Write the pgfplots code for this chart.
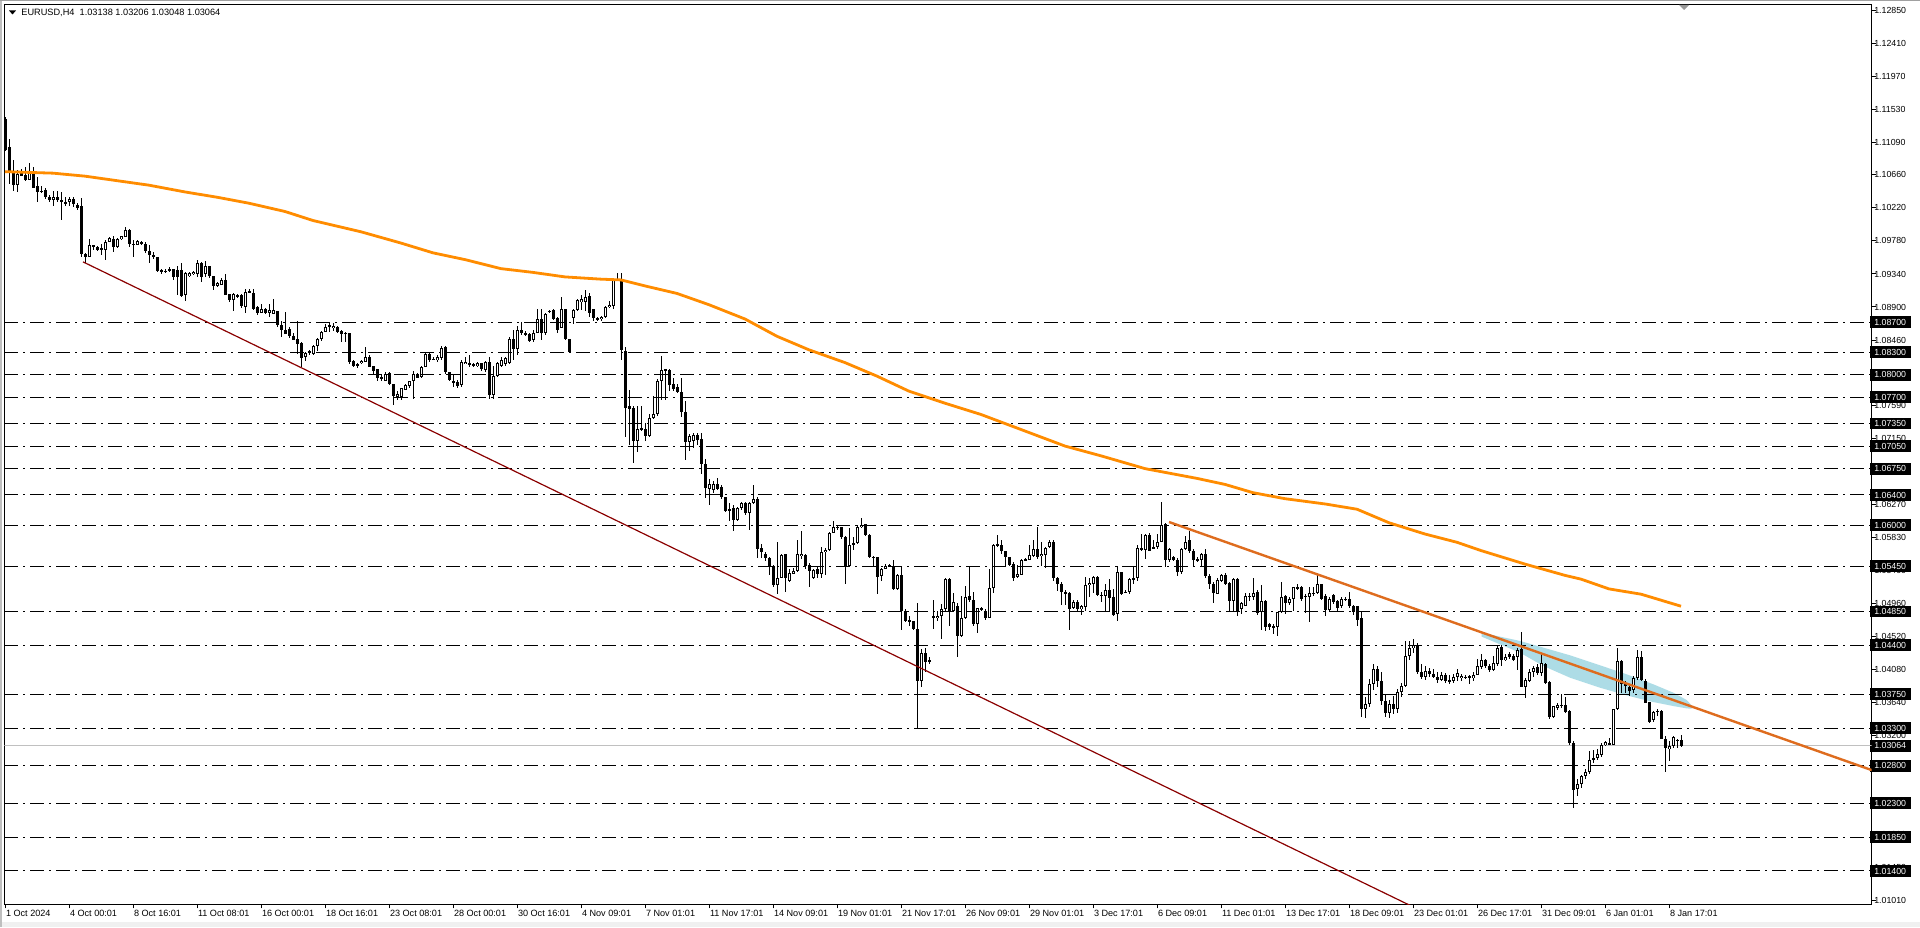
\documentclass[border=0pt]{standalone}
\usepackage{pgfplots}
\pgfplotsset{compat=1.18}
\usepackage{pgfplotstable}
\usepackage{fontspec}
\setmainfont{Liberation Sans}
\pgfdeclarelayer{background}
\pgfsetlayers{background,main}
\definecolor{maorange}{RGB}{255,140,0}
\definecolor{trendor}{RGB}{222,108,30}
\definecolor{chanred}{RGB}{139,0,0}
\definecolor{bandblue}{RGB}{173,220,230}
\definecolor{bidgray}{RGB}{192,192,192}
\definecolor{framegray}{RGB}{160,160,160}

\pgfplotstableread{
x o h l c
0 1.1140 1.1143 1.1097 1.1099
1 1.1103 1.1113 1.1054 1.1070
2 1.1070 1.1085 1.1044 1.1052
3 1.1052 1.1072 1.1043 1.1067
4 1.1068 1.1073 1.1064 1.1064
5 1.1066 1.1076 1.1057 1.1059
6 1.1059 1.1081 1.1059 1.1070
7 1.1067 1.1076 1.1048 1.1049
8 1.1051 1.1063 1.1030 1.1043
9 1.1045 1.1051 1.1041 1.1043
10 1.1045 1.1048 1.1034 1.1036
11 1.1037 1.1039 1.1030 1.1032
12 1.1033 1.1044 1.1024 1.1036
13 1.1036 1.1045 1.1030 1.1032
14 1.1032 1.1043 1.1006 1.1030
15 1.1030 1.1036 1.1024 1.1028
16 1.1030 1.1036 1.1024 1.1034
17 1.1034 1.1036 1.1023 1.1027
18 1.1026 1.1028 1.1019 1.1022
19 1.1024 1.1035 1.0957 1.0960
20 1.0961 1.0962 1.0949 1.0957
21 1.0957 1.0980 1.0957 1.0973
22 1.0972 1.0973 1.0966 1.0970
23 1.0970 1.0971 1.0965 1.0966
24 1.0968 1.0974 1.0959 1.0966
25 1.0966 1.0979 1.0952 1.0977
26 1.0977 1.0983 1.0977 1.0982
27 1.0981 1.0984 1.0963 1.0970
28 1.0970 1.0982 1.0969 1.0980
29 1.0980 1.0985 1.0979 1.0984
30 1.0983 1.0996 1.0983 1.0992
31 1.0992 1.0994 1.0970 1.0974
32 1.0974 1.0979 1.0957 1.0973
33 1.0973 1.0979 1.0972 1.0978
34 1.0977 1.0978 1.0973 1.0974
35 1.0974 1.0977 1.0962 1.0965
36 1.0965 1.0973 1.0949 1.0959
37 1.0959 1.0963 1.0954 1.0956
38 1.0956 1.0957 1.0937 1.0938
39 1.0939 1.0941 1.0934 1.0938
40 1.0938 1.0940 1.0935 1.0937
41 1.0940 1.0943 1.0937 1.0938
42 1.0940 1.0941 1.0926 1.0930
43 1.0939 1.0945 1.0906 1.0930
44 1.0939 1.0948 1.0903 1.0904
45 1.0906 1.0937 1.0898 1.0935
46 1.0931 1.0937 1.0930 1.0935
47 1.0934 1.0938 1.0933 1.0937
48 1.0934 1.0952 1.0930 1.0948
49 1.0948 1.0950 1.0923 1.0930
50 1.0934 1.0951 1.0930 1.0945
51 1.0945 1.0945 1.0928 1.0931
52 1.0931 1.0931 1.0912 1.0918
53 1.0918 1.0923 1.0917 1.0922
54 1.0920 1.0928 1.0919 1.0926
55 1.0926 1.0934 1.0906 1.0906
56 1.0907 1.0908 1.0897 1.0899
57 1.0899 1.0909 1.0885 1.0907
58 1.0906 1.0907 1.0902 1.0904
59 1.0906 1.0908 1.0889 1.0891
60 1.0890 1.0914 1.0882 1.0910
61 1.0910 1.0914 1.0910 1.0911
62 1.0909 1.0914 1.0886 1.0888
63 1.0890 1.0891 1.0879 1.0882
64 1.0882 1.0894 1.0882 1.0888
65 1.0888 1.0889 1.0881 1.0882
66 1.0882 1.0894 1.0877 1.0886
67 1.0881 1.0900 1.0881 1.0886
68 1.0885 1.0885 1.0863 1.0866
69 1.0866 1.0872 1.0850 1.0859
70 1.0860 1.0883 1.0854 1.0854
71 1.0861 1.0863 1.0849 1.0852
72 1.0851 1.0855 1.0846 1.0846
73 1.0848 1.0872 1.0828 1.0841
74 1.0842 1.0843 1.0810 1.0822
75 1.0823 1.0830 1.0818 1.0829
76 1.0829 1.0833 1.0826 1.0831
77 1.0828 1.0839 1.0826 1.0838
78 1.0838 1.0849 1.0832 1.0848
79 1.0848 1.0858 1.0845 1.0857
80 1.0857 1.0867 1.0857 1.0864
81 1.0864 1.0869 1.0857 1.0866
82 1.0862 1.0869 1.0858 1.0865
83 1.0864 1.0865 1.0856 1.0857
84 1.0858 1.0859 1.0844 1.0854
85 1.0856 1.0857 1.0843 1.0854
86 1.0855 1.0856 1.0814 1.0817
87 1.0818 1.0819 1.0810 1.0811
88 1.0812 1.0815 1.0809 1.0814
89 1.0815 1.0819 1.0814 1.0818
90 1.0817 1.0837 1.0817 1.0824
91 1.0824 1.0826 1.0810 1.0810
92 1.0811 1.0811 1.0799 1.0805
93 1.0807 1.0807 1.0792 1.0796
94 1.0797 1.0799 1.0791 1.0795
95 1.0792 1.0803 1.0791 1.0801
96 1.0802 1.0804 1.0786 1.0787
97 1.0787 1.0788 1.0759 1.0771
98 1.0771 1.0779 1.0767 1.0774
99 1.0771 1.0782 1.0766 1.0782
100 1.0780 1.0787 1.0779 1.0786
101 1.0785 1.0792 1.0782 1.0791
102 1.0791 1.0805 1.0768 1.0801
103 1.0801 1.0802 1.0795 1.0796
104 1.0797 1.0811 1.0796 1.0810
105 1.0810 1.0829 1.0810 1.0827
106 1.0827 1.0829 1.0817 1.0819
107 1.0820 1.0823 1.0819 1.0821
108 1.0819 1.0826 1.0817 1.0823
109 1.0822 1.0838 1.0819 1.0836
110 1.0837 1.0838 1.0801 1.0803
111 1.0804 1.0804 1.0792 1.0793
112 1.0792 1.0799 1.0784 1.0789
113 1.0790 1.0793 1.0782 1.0785
114 1.0786 1.0819 1.0784 1.0817
115 1.0814 1.0824 1.0814 1.0817
116 1.0816 1.0826 1.0810 1.0813
117 1.0814 1.0815 1.0810 1.0811
118 1.0811 1.0817 1.0810 1.0815
119 1.0815 1.0815 1.0805 1.0807
120 1.0806 1.0818 1.0804 1.0817
121 1.0817 1.0824 1.0768 1.0773
122 1.0773 1.0811 1.0768 1.0798
123 1.0798 1.0817 1.0797 1.0816
124 1.0811 1.0824 1.0810 1.0820
125 1.0814 1.0824 1.0811 1.0822
126 1.0815 1.0850 1.0814 1.0847
127 1.0847 1.0860 1.0820 1.0834
128 1.0834 1.0865 1.0826 1.0859
129 1.0860 1.0870 1.0853 1.0855
130 1.0856 1.0858 1.0851 1.0853
131 1.0854 1.0855 1.0843 1.0845
132 1.0846 1.0859 1.0844 1.0855
133 1.0855 1.0887 1.0855 1.0874
134 1.0874 1.0887 1.0846 1.0856
135 1.0856 1.0882 1.0853 1.0881
136 1.0883 1.0886 1.0882 1.0885
137 1.0886 1.0887 1.0873 1.0874
138 1.0876 1.0877 1.0855 1.0860
139 1.0862 1.0904 1.0862 1.0887
140 1.0887 1.0888 1.0846 1.0848
141 1.0848 1.0848 1.0829 1.0830
142 1.0875 1.0888 1.0867 1.0886
143 1.0886 1.0901 1.0885 1.0899
144 1.0896 1.0906 1.0886 1.0900
145 1.0897 1.0913 1.0885 1.0904
146 1.0905 1.0908 1.0877 1.0882
147 1.0887 1.0887 1.0871 1.0875
148 1.0875 1.0877 1.0871 1.0874
149 1.0874 1.0878 1.0872 1.0877
150 1.0877 1.0891 1.0876 1.0890
151 1.0890 1.0898 1.0888 1.0893
152 1.0891 1.0928 1.0888 1.0926
153 1.0925 1.0935 1.0924 1.0927
154 1.0926 1.0935 1.0819 1.0833
155 1.0832 1.0837 1.0717 1.0756
156 1.0758 1.0780 1.0706 1.0755
157 1.0755 1.0758 1.0683 1.0712
158 1.0712 1.0758 1.0697 1.0728
159 1.0729 1.0758 1.0725 1.0727
160 1.0728 1.0736 1.0712 1.0719
161 1.0718 1.0747 1.0717 1.0743
162 1.0743 1.0772 1.0741 1.0747
163 1.0747 1.0794 1.0745 1.0792
164 1.0792 1.0825 1.0767 1.0806
165 1.0807 1.0808 1.0767 1.0805
166 1.0806 1.0808 1.0778 1.0786
167 1.0787 1.0796 1.0778 1.0781
168 1.0784 1.0787 1.0776 1.0777
169 1.0777 1.0796 1.0743 1.0750
170 1.0750 1.0765 1.0686 1.0710
171 1.0710 1.0721 1.0699 1.0719
172 1.0712 1.0723 1.0703 1.0720
173 1.0720 1.0722 1.0706 1.0713
174 1.0714 1.0722 1.0668 1.0681
175 1.0681 1.0688 1.0636 1.0649
176 1.0648 1.0661 1.0627 1.0655
177 1.0647 1.0659 1.0643 1.0655
178 1.0654 1.0662 1.0646 1.0648
179 1.0650 1.0653 1.0635 1.0637
180 1.0637 1.0637 1.0618 1.0619
181 1.0622 1.0630 1.0605 1.0619
182 1.0623 1.0626 1.0592 1.0607
183 1.0607 1.0624 1.0606 1.0623
184 1.0622 1.0631 1.0620 1.0629
185 1.0629 1.0631 1.0614 1.0616
186 1.0616 1.0631 1.0594 1.0629
187 1.0629 1.0653 1.0628 1.0635
188 1.0635 1.0637 1.0556 1.0568
189 1.0569 1.0575 1.0556 1.0564
190 1.0562 1.0564 1.0552 1.0556
191 1.0556 1.0558 1.0533 1.0546
192 1.0546 1.0547 1.0518 1.0520
193 1.0520 1.0578 1.0509 1.0530
194 1.0530 1.0561 1.0529 1.0560
195 1.0561 1.0562 1.0511 1.0530
196 1.0526 1.0541 1.0524 1.0536
197 1.0535 1.0543 1.0535 1.0539
198 1.0539 1.0580 1.0538 1.0561
199 1.0559 1.0592 1.0555 1.0562
200 1.0560 1.0561 1.0542 1.0546
201 1.0547 1.0549 1.0517 1.0539
202 1.0529 1.0541 1.0528 1.0540
203 1.0541 1.0545 1.0529 1.0535
204 1.0535 1.0571 1.0529 1.0564
205 1.0564 1.0569 1.0533 1.0567
206 1.0567 1.0591 1.0565 1.0590
207 1.0590 1.0606 1.0589 1.0598
208 1.0598 1.0600 1.0594 1.0596
209 1.0597 1.0598 1.0582 1.0584
210 1.0584 1.0585 1.0521 1.0545
211 1.0545 1.0596 1.0544 1.0574
212 1.0574 1.0584 1.0567 1.0576
213 1.0576 1.0600 1.0575 1.0597
214 1.0597 1.0609 1.0596 1.0600
215 1.0601 1.0602 1.0586 1.0587
216 1.0587 1.0588 1.0556 1.0558
217 1.0558 1.0559 1.0546 1.0556
218 1.0557 1.0558 1.0508 1.0531
219 1.0532 1.0543 1.0525 1.0542
220 1.0542 1.0548 1.0541 1.0546
221 1.0546 1.0548 1.0544 1.0545
222 1.0546 1.0553 1.0513 1.0515
223 1.0515 1.0535 1.0513 1.0534
224 1.0534 1.0546 1.0461 1.0486
225 1.0486 1.0488 1.0471 1.0473
226 1.0473 1.0479 1.0466 1.0471
227 1.0472 1.0473 1.0461 1.0462
228 1.0462 1.0497 1.0330 1.0392
229 1.0392 1.0435 1.0384 1.0430
230 1.0430 1.0436 1.0405 1.0418
231 1.0420 1.0424 1.0415 1.0418
232 1.0479 1.0500 1.0462 1.0476
233 1.0476 1.0486 1.0473 1.0479
234 1.0479 1.0495 1.0448 1.0488
235 1.0488 1.0529 1.0486 1.0528
236 1.0528 1.0529 1.0466 1.0486
237 1.0486 1.0510 1.0485 1.0497
238 1.0492 1.0497 1.0424 1.0452
239 1.0452 1.0506 1.0451 1.0476
240 1.0476 1.0519 1.0475 1.0505
241 1.0505 1.0545 1.0498 1.0500
242 1.0500 1.0511 1.0466 1.0469
243 1.0469 1.0490 1.0457 1.0489
244 1.0489 1.0491 1.0485 1.0488
245 1.0486 1.0489 1.0474 1.0477
246 1.0477 1.0541 1.0476 1.0516
247 1.0516 1.0575 1.0510 1.0574
248 1.0574 1.0587 1.0571 1.0573
249 1.0574 1.0580 1.0562 1.0565
250 1.0565 1.0566 1.0545 1.0557
251 1.0557 1.0557 1.0545 1.0547
252 1.0548 1.0551 1.0526 1.0529
253 1.0531 1.0547 1.0529 1.0535
254 1.0534 1.0555 1.0533 1.0554
255 1.0553 1.0556 1.0552 1.0555
256 1.0554 1.0574 1.0553 1.0560
257 1.0559 1.0580 1.0557 1.0568
258 1.0568 1.0597 1.0555 1.0557
259 1.0559 1.0577 1.0545 1.0562
260 1.0560 1.0571 1.0543 1.0569
261 1.0571 1.0580 1.0569 1.0578
262 1.0578 1.0580 1.0526 1.0529
263 1.0529 1.0531 1.0512 1.0521
264 1.0522 1.0524 1.0494 1.0511
265 1.0511 1.0514 1.0494 1.0509
266 1.0510 1.0511 1.0460 1.0489
267 1.0489 1.0500 1.0488 1.0498
268 1.0498 1.0500 1.0484 1.0488
269 1.0488 1.0494 1.0481 1.0492
270 1.0491 1.0531 1.0485 1.0520
271 1.0520 1.0529 1.0504 1.0523
272 1.0522 1.0532 1.0509 1.0531
273 1.0531 1.0532 1.0505 1.0507
274 1.0507 1.0511 1.0497 1.0506
275 1.0506 1.0521 1.0486 1.0513
276 1.0513 1.0528 1.0485 1.0503
277 1.0504 1.0515 1.0479 1.0481
278 1.0482 1.0545 1.0472 1.0537
279 1.0537 1.0538 1.0507 1.0509
280 1.0510 1.0514 1.0509 1.0511
281 1.0511 1.0530 1.0509 1.0528
282 1.0528 1.0545 1.0521 1.0529
283 1.0529 1.0574 1.0526 1.0569
284 1.0569 1.0588 1.0566 1.0567
285 1.0567 1.0588 1.0555 1.0587
286 1.0587 1.0590 1.0565 1.0566
287 1.0569 1.0580 1.0568 1.0570
288 1.0571 1.0588 1.0568 1.0578
289 1.0578 1.0630 1.0577 1.0600
290 1.0602 1.0603 1.0544 1.0553
291 1.0553 1.0569 1.0551 1.0568
292 1.0557 1.0559 1.0552 1.0553
293 1.0554 1.0556 1.0532 1.0537
294 1.0537 1.0569 1.0535 1.0568
295 1.0568 1.0585 1.0567 1.0578
296 1.0580 1.0592 1.0563 1.0565
297 1.0566 1.0568 1.0545 1.0553
298 1.0555 1.0557 1.0551 1.0553
299 1.0553 1.0563 1.0545 1.0562
300 1.0561 1.0568 1.0529 1.0532
301 1.0532 1.0535 1.0515 1.0521
302 1.0521 1.0524 1.0497 1.0509
303 1.0509 1.0530 1.0508 1.0527
304 1.0526 1.0535 1.0524 1.0533
305 1.0534 1.0536 1.0520 1.0521
306 1.0523 1.0524 1.0485 1.0499
307 1.0499 1.0530 1.0485 1.0528
308 1.0528 1.0529 1.0479 1.0486
309 1.0489 1.0498 1.0481 1.0496
310 1.0493 1.0509 1.0492 1.0506
311 1.0506 1.0509 1.0499 1.0505
312 1.0504 1.0530 1.0501 1.0510
313 1.0511 1.0514 1.0481 1.0483
314 1.0484 1.0520 1.0461 1.0499
315 1.0499 1.0501 1.0459 1.0464
316 1.0469 1.0470 1.0461 1.0464
317 1.0465 1.0468 1.0455 1.0464
318 1.0464 1.0484 1.0452 1.0484
319 1.0484 1.0524 1.0483 1.0505
320 1.0505 1.0507 1.0481 1.0496
321 1.0496 1.0504 1.0494 1.0502
322 1.0502 1.0518 1.0486 1.0517
323 1.0517 1.0521 1.0514 1.0516
324 1.0518 1.0519 1.0499 1.0502
325 1.0505 1.0508 1.0483 1.0506
326 1.0505 1.0518 1.0471 1.0510
327 1.0510 1.0518 1.0506 1.0509
328 1.0509 1.0535 1.0508 1.0521
329 1.0521 1.0521 1.0500 1.0502
330 1.0506 1.0508 1.0479 1.0487
331 1.0487 1.0504 1.0485 1.0501
332 1.0507 1.0508 1.0495 1.0498
333 1.0499 1.0501 1.0484 1.0489
334 1.0492 1.0504 1.0490 1.0502
335 1.0501 1.0505 1.0499 1.0502
336 1.0502 1.0511 1.0490 1.0492
337 1.0493 1.0494 1.0480 1.0484
338 1.0492 1.0493 1.0466 1.0474
339 1.0476 1.0484 1.0345 1.0355
340 1.0355 1.0372 1.0343 1.0362
341 1.0362 1.0395 1.0358 1.0388
342 1.0388 1.0415 1.0380 1.0409
343 1.0409 1.0413 1.0385 1.0392
344 1.0392 1.0404 1.0360 1.0366
345 1.0366 1.0375 1.0344 1.0350
346 1.0350 1.0368 1.0343 1.0362
347 1.0362 1.0372 1.0348 1.0355
348 1.0355 1.0382 1.0350 1.0378
349 1.0378 1.0390 1.0372 1.0386
350 1.0386 1.0446 1.0384 1.0426
351 1.0426 1.0446 1.0420 1.0436
352 1.0436 1.0448 1.0430 1.0441
353 1.0441 1.0443 1.0402 1.0405
354 1.0405 1.0415 1.0395 1.0398
355 1.0398 1.0412 1.0394 1.0406
356 1.0406 1.0410 1.0398 1.0402
357 1.0402 1.0408 1.0396 1.0398
358 1.0398 1.0405 1.0390 1.0394
359 1.0394 1.0404 1.0392 1.0400
360 1.0400 1.0403 1.0390 1.0393
361 1.0393 1.0400 1.0388 1.0392
362 1.0392 1.0402 1.0390 1.0398
363 1.0398 1.0408 1.0393 1.0403
364 1.0396 1.0402 1.0393 1.0399
365 1.0398 1.0400 1.0395 1.0397
366 1.0399 1.0401 1.0389 1.0396
367 1.0396 1.0404 1.0393 1.0401
368 1.0401 1.0422 1.0400 1.0412
369 1.0411 1.0429 1.0409 1.0421
370 1.0421 1.0422 1.0410 1.0412
371 1.0413 1.0415 1.0404 1.0407
372 1.0407 1.0426 1.0406 1.0416
373 1.0415 1.0440 1.0412 1.0437
374 1.0438 1.0441 1.0413 1.0421
375 1.0420 1.0428 1.0419 1.0425
376 1.0429 1.0431 1.0422 1.0425
377 1.0426 1.0428 1.0419 1.0421
378 1.0425 1.0437 1.0407 1.0434
379 1.0435 1.0458 1.0384 1.0384
380 1.0385 1.0396 1.0370 1.0394
381 1.0393 1.0409 1.0391 1.0404
382 1.0404 1.0412 1.0398 1.0410
383 1.0411 1.0415 1.0400 1.0403
384 1.0403 1.0428 1.0399 1.0416
385 1.0415 1.0416 1.0389 1.0390
386 1.0391 1.0392 1.0342 1.0345
387 1.0345 1.0360 1.0344 1.0359
388 1.0357 1.0363 1.0354 1.0361
389 1.0359 1.0375 1.0357 1.0361
390 1.0361 1.0372 1.0350 1.0351
391 1.0352 1.0354 1.0308 1.0310
392 1.0310 1.0313 1.0224 1.0248
393 1.0249 1.0262 1.0240 1.0256
394 1.0256 1.0268 1.0250 1.0266
395 1.0266 1.0275 1.0262 1.0271
396 1.0271 1.0299 1.0269 1.0288
397 1.0288 1.0301 1.0283 1.0290
398 1.0290 1.0302 1.0288 1.0295
399 1.0294 1.0310 1.0291 1.0308
400 1.0307 1.0313 1.0306 1.0311
401 1.0310 1.0317 1.0307 1.0308
402 1.0308 1.0356 1.0307 1.0355
403 1.0355 1.0436 1.0354 1.0419
404 1.0419 1.0421 1.0377 1.0388
405 1.0388 1.0392 1.0377 1.0386
406 1.0385 1.0387 1.0373 1.0379
407 1.0381 1.0399 1.0377 1.0397
408 1.0396 1.0434 1.0394 1.0425
409 1.0425 1.0432 1.0392 1.0394
410 1.0393 1.0395 1.0363 1.0364
411 1.0364 1.0365 1.0337 1.0338
412 1.0341 1.0352 1.0338 1.0351
413 1.0352 1.0355 1.0346 1.0353
414 1.0353 1.0354 1.0315 1.0316
415 1.0316 1.0320 1.0271 1.0304
416 1.0302 1.0313 1.0286 1.0306
417 1.0306 1.0319 1.0304 1.0318
418 1.0313 1.0316 1.0304 1.0314
419 1.03138 1.03206 1.03048 1.03064
}\candles

\begin{document}
\begin{tikzpicture}[x=0.5pt,y=0.5pt]
\begin{axis}[
  scale only axis, width=933.7pt, height=450pt,
  xmin=-0.175, xmax=466.675, ymin=1.00955, ymax=1.12926,
  clip=true,
  axis background/.style={fill=white},
  axis line style={line width=0.5pt, black},
  tick align=outside, major tick length=2pt,
  every tick/.style={line width=0.5pt, black},
  xtick pos=bottom, ytick pos=right, yticklabel pos=right,
  xtick={0,16,...,416},
  xticklabels={1 Oct 2024,4 Oct 00:01,8 Oct 16:01,11 Oct 08:01,16 Oct 00:01,18 Oct 16:01,23 Oct 08:01,28 Oct 00:01,30 Oct 16:01,4 Nov 09:01,7 Nov 01:01,11 Nov 17:01,14 Nov 09:01,19 Nov 01:01,21 Nov 17:01,26 Nov 09:01,29 Nov 01:01,3 Dec 17:01,6 Dec 09:01,11 Dec 01:01,13 Dec 17:01,18 Dec 09:01,23 Dec 01:01,26 Dec 17:01,31 Dec 09:01,6 Jan 01:01,8 Jan 17:01},
  xticklabel style={font=\fontsize{4.55pt}{5pt}\selectfont, anchor=north west, inner sep=0pt, text height=3.3pt, text depth=0.8pt, xshift=0.3pt, yshift=-0.6pt},
  ytick={1.0101,1.0145,1.0189,1.0233,1.0277,1.0320,1.0364,1.0408,1.0452,1.0496,1.0540,1.0583,1.0627,1.0671,1.0715,1.0759,1.0802,1.0846,1.0890,1.0934,1.0978,1.1022,1.1066,1.1109,1.1153,1.1197,1.1241,1.1285},
  yticklabels={1.01010,1.01450,1.01890,1.02330,1.02770,1.03200,1.03640,1.04080,1.04520,1.04960,1.05400,1.05830,1.06270,1.06710,1.07150,1.07590,1.08020,1.08460,1.08900,1.09340,1.09780,1.10220,1.10660,1.11090,1.11530,1.11970,1.12410,1.12850},
  yticklabel style={font=\fontsize{4.4pt}{5pt}\selectfont, anchor=west, inner xsep=2.4pt, inner ysep=1.4pt, text height=3.15pt, text depth=0pt, xshift=-3.3pt},
  extra y ticks={1.0870,1.0830,1.0800,1.0770,1.0735,1.0705,1.0675,1.0640,1.0600,1.0545,1.0485,1.0440,1.0375,1.0330,1.03064,1.0280,1.0230,1.0185,1.0140},
  extra y tick labels={1.08700,1.08300,1.08000,1.07700,1.07350,1.07050,1.06750,1.06400,1.06000,1.05450,1.04850,1.04400,1.03750,1.03300,1.03064,1.02800,1.02300,1.01850,1.01400},
  extra y tick style={yticklabel style={fill=black, text=white}},
]
% light blue band (behind)
\addplot[draw=none, fill=bandblue, forget plot] coordinates {
 (369.17,1.04569) (373.75,1.04515) (378.75,1.04458) (384.58,1.04369) (391.25,1.04267) (398.75,1.04134) (405.42,1.04014) (412.08,1.03881) (417.08,1.03770) (420.42,1.03672) (421.67,1.03601)
 (421.67,1.03556) (420.42,1.03561) (417.08,1.03592) (412.08,1.03645) (405.42,1.03734) (398.75,1.03836) (391.25,1.03969) (384.58,1.04125) (378.75,1.04302) (373.75,1.04413) (369.17,1.04515)
} -- cycle;
% bid line
\addplot[bidgray, line width=0.5pt, forget plot] coordinates {(-0.175,1.03064) (466.675,1.03064)};
% wicks
\addplot[draw=none, mark=none, forget plot,
  error bars/.cd, y dir=both, y explicit, error mark=none,
  error bar style={draw=black, line width=0.5pt, solid, line cap=butt}]
  table[x=x, y expr={(\thisrow{h}+\thisrow{l})/2}, y error expr={(\thisrow{h}-\thisrow{l})/2}] {\candles};
% bodies (black)
\addplot[draw=none, mark=none, forget plot,
  error bars/.cd, y dir=both, y explicit, error mark=none,
  error bar style={draw=black, line width=1.5pt, solid, line cap=butt}]
  table[x=x, y expr={(\thisrow{o}+\thisrow{c})/2}, y error expr={max(abs(\thisrow{c}-\thisrow{o})/2,0.00007)}] {\candles};
% white interior of bullish bodies
\addplot[draw=none, mark=none, forget plot,
  error bars/.cd, y dir=both, y explicit, error mark=none,
  error bar style={draw=white, line width=0.5pt, solid, line cap=butt}]
  table[x=x, y expr={ifthenelse(\thisrow{c}-\thisrow{o}>0.00028,(\thisrow{o}+\thisrow{c})/2,1.5)}, y error expr={ifthenelse(\thisrow{c}-\thisrow{o}>0.00028,(\thisrow{c}-\thisrow{o})/2-0.000133,0.0001)}] {\candles};
% horizontal levels
\pgfplotsinvokeforeach{1.0870,1.0830,1.0800,1.0770,1.0735,1.0705,1.0675,1.0640,1.0600,1.0545,1.0485,1.0440,1.0375,1.0330,1.0280,1.0230,1.0185,1.0140}{
  \addplot[black, line width=0.5pt, dash pattern=on 7pt off 2.5pt on 1pt off 2.5pt, forget plot] coordinates {(-0.175,#1) (466.675,#1)};
}
% moving average
\addplot[maorange, line width=1.4pt, forget plot] coordinates {
 (0,1.1070) (12,1.1068) (20,1.1064) (28,1.1058) (36,1.1052) (45,1.1043) (53,1.1036) (61,1.1028) (70,1.1017) (77,1.1005) (89,1.0990) (99,1.0975) (107,1.0962) (115,1.0953) (124,1.0941) (132,1.0936) (140,1.0930) (149,1.0927) (154,1.0926) (160,1.0918) (168,1.0908) (176,1.0893) (185,1.0874) (193,1.0851) (201,1.0833) (210,1.0816) (218,1.0798) (226,1.0778) (235,1.0762) (244,1.0747) (255,1.0725) (265,1.0705) (274,1.0692) (285,1.0675) (298,1.0662) (305,1.0654) (312,1.0643) (320,1.0635) (330,1.0628) (338,1.0621) (346,1.0603) (355,1.0588) (363,1.0577) (369,1.0566) (380,1.0548) (390,1.0533) (394,1.0528) (401,1.0515) (409,1.0508) (414,1.0500) (419,1.0492)
};
% lower channel line
\addplot[chanred, line width=0.6pt, forget plot] coordinates {(19.5,1.0950) (360,1.00715)};
% upper trend line
\addplot[trendor, line width=1.2pt, forget plot] coordinates {(291,1.0604) (466.675,1.0274)};
\coordinate (tl) at (rel axis cs:0,1);
\end{axis}
\begin{scope}[shift={(tl)}, shift={(-4.3,4.3)}]
\begin{pgfonlayer}{background}
\fill[white] (0,0) rectangle (1920,-927);
\end{pgfonlayer}
\fill[black!6] (0,-922) rectangle (1920,-927);
\fill[black!25] (0,0) rectangle (2,-927);
\fill[framegray] (0,0) rectangle (1920,-1);
% title
\fill[black] (9,-10.5) -- (16,-10.5) -- (12.5,-14.5) -- cycle;
\node[anchor=base west, inner sep=0pt, font=\fontsize{4.6pt}{5pt}\selectfont] at (21,-15.8) {EURUSD,H4\ \ 1.03138 1.03206 1.03048 1.03064};
% chart shift marker
\fill[black!40] (1679,-5) -- (1689,-5) -- (1684,-10) -- cycle;
\pgfresetboundingbox
\useasboundingbox (0,0) rectangle (1920,-927);
\end{scope}
\end{tikzpicture}
\end{document}
